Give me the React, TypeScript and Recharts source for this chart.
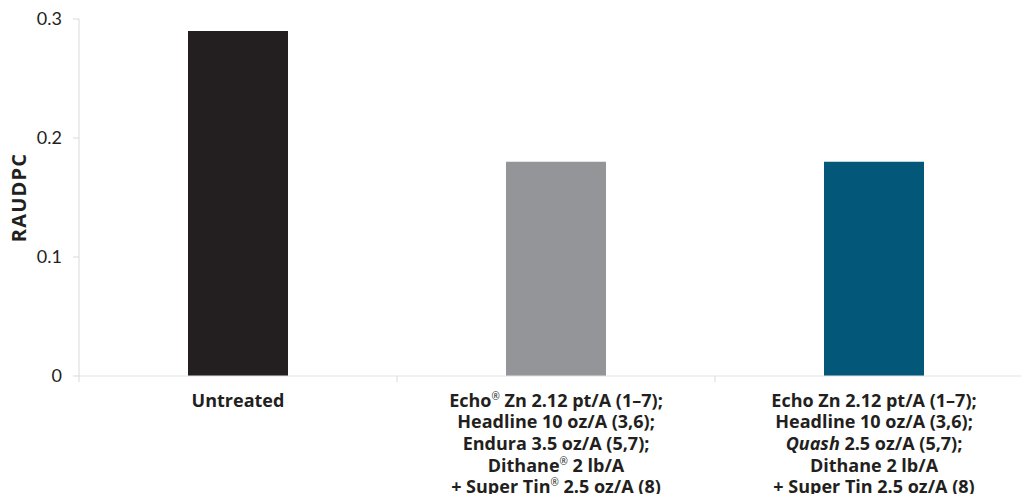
import React from "react";
import { BarChart, Bar, XAxis, YAxis, Cell, Label } from "recharts";

// RAUDPC by treatment
const treatments = ["Untreated", "Echo Zn + Endura", "Echo Zn + Quash"];
const raudpc = [0.29, 0.18, 0.18];
const yTicks = [0, 0.1, 0.2, 0.3];

// tick label lines; "®" is drawn superscript, _text_ is italic
const untreatedLines = ["Untreated"];
const enduraLines = [
  "Echo® Zn 2.12 pt/A (1–7);",
  "Headline 10 oz/A (3,6);",
  "Endura 3.5 oz/A (5,7);",
  "Dithane® 2 lb/A",
  "+ Super Tin® 2.5 oz/A (8)",
];
const quashLines = [
  "Echo Zn 2.12 pt/A (1–7);",
  "Headline 10 oz/A (3,6);",
  "_Quash_ 2.5 oz/A (5,7);",
  "Dithane 2 lb/A",
  "+ Super Tin 2.5 oz/A (8)",
];
const tickLines = [untreatedLines, enduraLines, quashLines];

const barColors = ["#231f20", "#939598", "#03587a"];
const TEXT = "#231f20";
const AXIS = "#d9d9d9";
const TICK_FONT = "Lato, 'Open Sans', sans-serif";
const BOLD_FONT = "'Open Sans', Lato, sans-serif";

const data = treatments.map((name, i) => ({ name, value: raudpc[i] }));

function renderLine(line: string) {
  return line.split(/(®|_[^_]+_)/).filter(Boolean).map((part, i) => {
    if (part === "®") {
      return (
        <tspan key={i} fontSize={10} fontWeight={400} baselineShift="super">
          ®
        </tspan>
      );
    }
    if (part.startsWith("_")) {
      return (
        <tspan key={i} fontStyle="italic">
          {part.slice(1, -1)}
        </tspan>
      );
    }
    return <tspan key={i}>{part}</tspan>;
  });
}

function CategoryTick(props: any) {
  const { x, y, payload } = props;
  const lines = tickLines[payload.index] || [];
  const half = payload.offset ?? 0;
  return (
    <g>
      <line x1={x - half} x2={x - half} y1={y - 6} y2={y} stroke={AXIS} />
      {lines.map((line, i) => (
        <text
          key={i}
          x={x}
          y={y + 24.5 + i * 21.7}
          textAnchor="middle"
          fill={TEXT}
          fontFamily={BOLD_FONT}
          fontWeight={700}
          fontSize={18}
        >
          {renderLine(line)}
        </text>
      ))}
    </g>
  );
}

function AxisTitle(props: any) {
  const { viewBox } = props;
  const cx = viewBox.x + 26;
  const cy = viewBox.y + viewBox.height / 2;
  return (
    <text
      x={cx}
      y={cy}
      transform={`rotate(-90, ${cx}, ${cy})`}
      textAnchor="middle"
      fill={TEXT}
      fontFamily={BOLD_FONT}
      fontWeight={700}
      fontSize={20}
      letterSpacing={1.2}
    >
      RAUDPC
    </text>
  );
}

export default function App() {
  return (
    <div
      style={{
        position: "absolute",
        left: 0,
        top: 0,
        width: 1021,
        height: 494,
        overflow: "hidden",
        background: "#fff",
      }}
    >
      <BarChart
        width={1033}
        height={494}
        data={data}
        margin={{ top: 19, right: 0, left: 0, bottom: 0 }}
      >
        <XAxis
          dataKey="name"
          height={118}
          interval={0}
          tickLine={false}
          tickSize={6}
          tickMargin={0}
          axisLine={{ stroke: "#e3e3e3" }}
          tick={<CategoryTick />}
        />
        <YAxis
          width={79}
          domain={[0, 0.3]}
          ticks={yTicks}
          tickFormatter={(v: number) => (v === 0 ? "0" : String(v))}
          axisLine={{ stroke: AXIS }}
          tickLine={{ stroke: AXIS }}
          tickSize={6}
          tickMargin={11}
          tick={{ fill: TEXT, fontSize: 18, fontFamily: TICK_FONT }}
        >
          <Label content={<AxisTitle />} />
        </YAxis>
        <Bar dataKey="value" barSize={100} isAnimationActive={false}>
          {data.map((d, i) => (
            <Cell key={d.name} fill={barColors[i]} />
          ))}
        </Bar>
      </BarChart>
    </div>
  );
}
